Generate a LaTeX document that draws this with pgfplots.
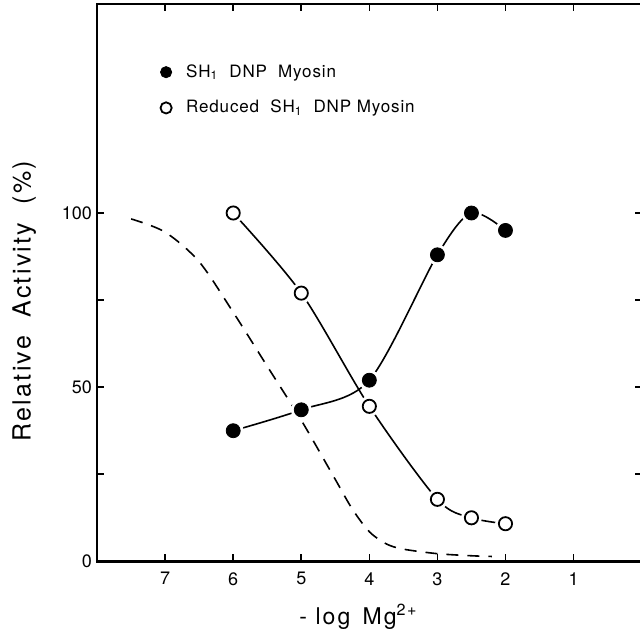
\documentclass[border=0pt]{standalone}
\usepackage{fontspec}
\setmainfont{TeX Gyre Heros}
\newfontfamily\labelfont[LetterSpace=9]{TeX Gyre Heros}
\newfontfamily\legfont[LetterSpace=5]{TeX Gyre Heros}
\usepackage{pgfplots}
\pgfplotsset{compat=1.18}

\begin{document}
\begin{tikzpicture}
\begin{axis}[
    scale only axis,
    width=272pt, height=278.4pt,
    x dir=reverse,
    xmin=0, xmax=8, ymin=0, ymax=160,
    xtick={1,2,3,4,5,6,7},
    ytick={0,50,100},
    minor ytick={25,75},
    tick align=inside,
    major tick length=3.5pt, minor tick length=3.5pt,
    axis line style={line width=1.2pt},
    every tick/.style={black, line width=0.8pt},
    /pgf/number format/assume math mode=true,
    tick label style={font=\fontsize{9}{10}\selectfont},
    xticklabel style={yshift=-2pt},
    yticklabel style={xshift=1pt},
    xlabel={\labelfont - log\, Mg\textsuperscript{2+}},
    xlabel style={at={(axis description cs:0.48,-0.1)}, anchor=center, font=\fontsize{11.5}{13}\selectfont},
    ylabel={\labelfont Relative\ \ Activity\ \ (\%)},
    ylabel style={at={(axis description cs:-0.134,0.467)}, anchor=center, font=\fontsize{12.5}{14}\selectfont},
    legend style={draw=none, fill=none, at={(axis cs:7.08,135.3)}, anchor=west,
        font=\fontsize{8.5}{10}\selectfont\legfont, row sep=6pt, inner sep=0pt},
    legend image code/.code={
        \draw[#1, mark size=2.8pt] plot coordinates {(0pt,0pt)};
        \path[draw=none, fill=none] (-3pt,0pt) -- (8pt,0pt);},
    legend cell align=left,
]

% dashed reference curve
\addplot[black, line width=0.8pt, dash pattern=on 6pt off 4.5pt, smooth, forget plot]
coordinates {
    (7.5,98.3) (7.0,94.5) (6.5,86) (6.0,71.5) (5.5,56) (5.0,40.5)
    (4.5,23.5) (4.25,15) (4.0,8.5) (3.75,5) (3.5,3.5) (3.0,2.2)
    (2.5,1.6) (2.2,1.4)
};

% SH1 DNP myosin, curve
\addplot[black, line width=0.8pt, smooth, forget plot]
coordinates {(6,37.5) (5,43.5) (4,52) (3,88) (2.5,100) (2,95)};

% reduced SH1 DNP myosin, curve
\addplot[black, line width=0.8pt, smooth, forget plot]
coordinates {(6,100) (5,77) (4,44.5) (3,17.8) (2.5,12.5) (2,10.8)};

% white halos so lines stop short of the marks
\addplot[only marks, mark=*, mark size=5pt, white, forget plot]
coordinates {(6,37.5) (5,43.5) (4,52) (3,88) (2.5,100) (2,95)};
\addplot[only marks, mark=*, mark size=5pt, white, forget plot]
coordinates {(6,100) (5,77) (4,44.5) (3,17.8) (2.5,12.5) (2,10.8)};

\addplot[only marks, mark=*, mark size=3.5pt, black]
coordinates {(6,37.5) (5,43.5) (4,52) (3,88) (2.5,100) (2,95)};
\addlegendentry{SH\textsubscript{1}\ \ DNP\ \ Myosin}

\addplot[only marks, mark=o, mark size=3.3pt, black, line width=0.9pt, mark options={fill=white}]
coordinates {(6,100) (5,77) (4,44.5) (3,17.8) (2.5,12.5) (2,10.8)};
\addlegendentry{Reduced\ \ SH\textsubscript{1}\ \ DNP\ Myosin}

\end{axis}
\pgfresetboundingbox
\path[use as bounding box] ([xshift=-48.5pt,yshift=-38.5pt]current axis.south west)
    rectangle ([xshift=-0.8pt,yshift=2pt]current axis.north east);
\end{tikzpicture}
\end{document}
